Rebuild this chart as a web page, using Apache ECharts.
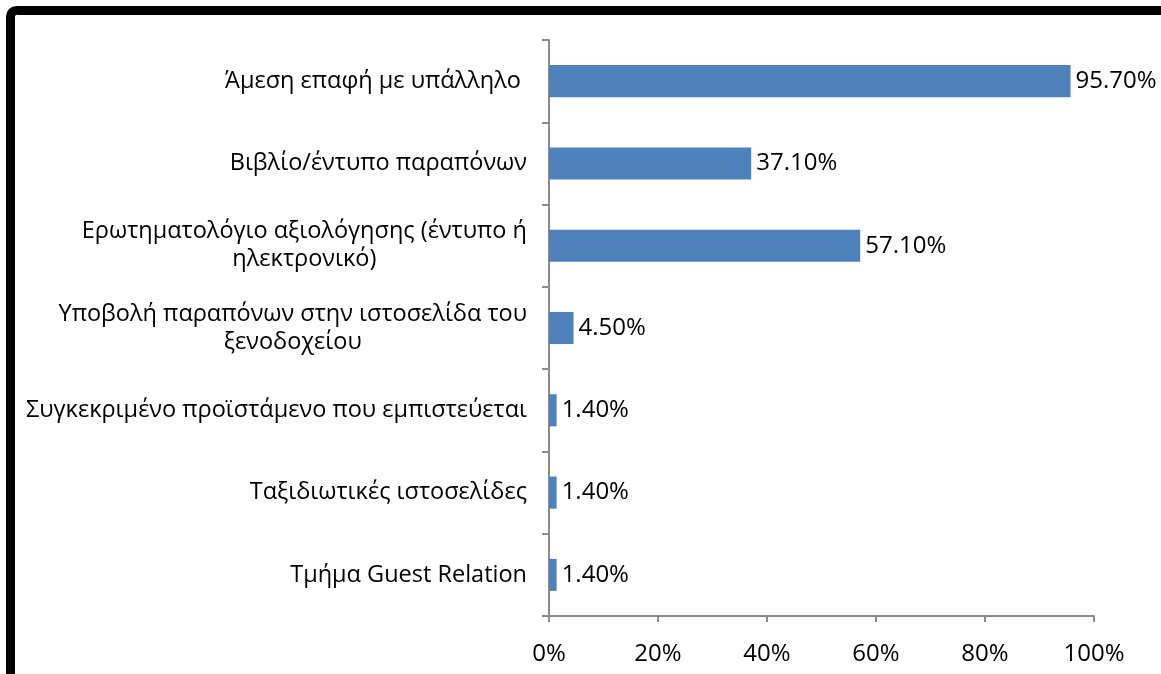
<!DOCTYPE html>
<html>
<head>
<meta charset="utf-8">
<script src="https://cdn.jsdelivr.net/npm/echarts@6/dist/echarts.min.js"></script>
<style>
  html, body { margin: 0; padding: 0; background: #ffffff; }
  #chart { width: 1161px; height: 674px; }
</style>
</head>
<body>
<div id="chart"></div>
<script>
// Channels used by guests to submit complaints (share of respondents, %)
const categories = [
  'Άμεση επαφή με υπάλληλο ',
  'Βιβλίο/έντυπο παραπόνων',
  'Ερωτηματολόγιο αξιολόγησης (έντυπο ή\nηλεκτρονικό)',
  'Υποβολή παραπόνων στην ιστοσελίδα του\nξενοδοχείου',
  'Συγκεκριμένο προϊστάμενο που εμπιστεύεται',
  'Ταξιδιωτικές ιστοσελίδες',
  'Τμήμα Guest Relation'
];
const values = [95.7, 37.1, 57.1, 4.5, 1.4, 1.4, 1.4];
const xTicks = [0, 20, 40, 60, 80, 100];

const FONT = '"Open Sans", "Noto Sans", sans-serif';
const AXIS_GRAY = '#8c8c8c';
const LABEL_SIZE = 23.5;

const chart = echarts.init(document.getElementById('chart'), null, { renderer: 'canvas' });

chart.setOption({
  animation: false,
  backgroundColor: '#ffffff',
  textStyle: { fontFamily: FONT },
  graphic: [{
    type: 'rect',
    shape: { x: 10.5, y: 10.5, width: 1300, height: 800, r: 6 },
    style: { fill: 'none', stroke: '#000000', lineWidth: 9 },
    silent: true
  }],
  grid: { left: 549, right: 67, top: 40, bottom: 58, containLabel: false },
  xAxis: {
    type: 'value',
    min: xTicks[0],
    max: xTicks[xTicks.length - 1],
    interval: xTicks[1] - xTicks[0],
    axisLine: { show: true, lineStyle: { color: AXIS_GRAY, width: 2 } },
    axisTick: { show: true, length: 6, lineStyle: { color: AXIS_GRAY, width: 2 } },
    splitLine: { show: false },
    axisLabel: {
      margin: 26,
      color: '#000000',
      fontFamily: FONT,
      fontSize: 24,
      formatter: v => v + '%'
    }
  },
  yAxis: {
    type: 'category',
    data: categories,
    inverse: true,
    boundaryGap: true,
    axisLine: { show: true, lineStyle: { color: AXIS_GRAY, width: 2 } },
    axisTick: { show: true, length: 7, alignWithLabel: false, lineStyle: { color: AXIS_GRAY, width: 2 } },
    splitLine: { show: false },
    axisLabel: {
      margin: 22,
      color: '#000000',
      fontFamily: FONT,
      fontSize: LABEL_SIZE,
      lineHeight: 28,
      formatter: v => v.split('\n').map(s => '{c|' + s + '}').join('\n'),
      rich: {
        c: { align: 'center', fontFamily: FONT, fontSize: LABEL_SIZE, lineHeight: 28, color: '#000000' }
      }
    }
  },
  series: [{
    type: 'bar',
    data: values,
    barWidth: '39%',
    itemStyle: { color: '#4f81bd' },
    label: {
      show: true,
      position: 'right',
      distance: 5,
      color: '#000000',
      fontFamily: FONT,
      fontSize: 24,
      formatter: p => p.value.toFixed(2) + '%'
    }
  }]
});
</script>
</body>
</html>
